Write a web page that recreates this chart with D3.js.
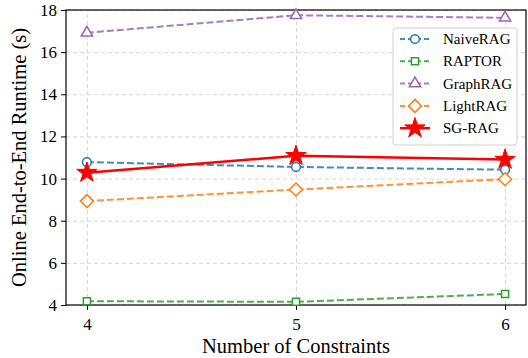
<!DOCTYPE html>
<html>
<head>
<meta charset="utf-8">
<script src="https://cdn.jsdelivr.net/npm/d3@7"></script>
<style>
  body { margin: 0; background: #fff; }
  text { font-family: "Liberation Serif", "Times New Roman", serif; fill: #000; }
  .grid line { stroke: #cccccc; stroke-dasharray: 4,3; stroke-width: 0.8; }
  .grid path { display: none; }
  .axis path, .axis line { stroke: #000; }
  .axis text { font-size: 17px; font-family: "Liberation Serif", serif; }
</style>
</head>
<body>
<svg id="chart" width="528" height="358"></svg>
<script>
// x categories
var constraints = [4, 5, 6];
var yTicks = [4, 6, 8, 10, 12, 14, 16, 18];

// runtime (s) per method
var naiveRAG = [10.78, 10.55, 10.42];
var raptor   = [4.18, 4.15, 4.52];
var graphRAG = [16.92, 17.75, 17.63];
var lightRAG = [8.93, 9.48, 9.97];
var sgRAG    = [10.28, 11.08, 10.9];

var seriesNames = ["NaiveRAG", "RAPTOR", "GraphRAG", "LightRAG", "SG-RAG"];

var params = {
  "margin": { "top": 10, "right": 2, "bottom": 53, "left": 66 },
  "width": 528,
  "height": 358
};
params.plot = {
  "width": params.width - params.margin.left - params.margin.right,
  "height": params.height - params.margin.top - params.margin.bottom
};

var styles = {
  "NaiveRAG": { "color": "#1f77b4", "marker": "circle", "dash": "7,3", "width": 2 },
  "RAPTOR":   { "color": "#2ca02c", "marker": "square", "dash": "7,3", "width": 2 },
  "GraphRAG": { "color": "#9467bd", "marker": "triangle", "dash": "7,3", "width": 2 },
  "LightRAG": { "color": "#ff7f0e", "marker": "diamond", "dash": "7,3", "width": 2 },
  "SG-RAG":   { "color": "#ff0000", "marker": "star", "dash": null, "width": 2.5 }
};

var series = [
  { "name": "NaiveRAG", "values": naiveRAG },
  { "name": "RAPTOR", "values": raptor },
  { "name": "GraphRAG", "values": graphRAG },
  { "name": "LightRAG", "values": lightRAG },
  { "name": "SG-RAG", "values": sgRAG }
];

var svg = d3.select("#chart");
var plot = svg.append("g")
  .attr("transform", "translate(" + params.margin.left + "," + params.margin.top + ")");

var x = d3.scaleLinear().domain([3.9, 6.1]).range([0, params.plot.width]);
var y = d3.scaleLinear().domain([4, 18]).range([params.plot.height, 0]);

// grid
plot.append("g").attr("class", "grid")
  .attr("transform", "translate(0," + params.plot.height + ")")
  .call(d3.axisBottom(x).tickValues(constraints).tickSize(-params.plot.height).tickFormat(""));
plot.append("g").attr("class", "grid")
  .call(d3.axisLeft(y).tickValues(yTicks).tickSize(-params.plot.width).tickFormat(""));

// axes
var gx = plot.append("g").attr("class", "axis")
  .attr("transform", "translate(0," + params.plot.height + ")")
  .call(d3.axisBottom(x).tickValues(constraints).tickFormat(d3.format("d")).tickSize(5).tickPadding(8));
var gy = plot.append("g").attr("class", "axis")
  .call(d3.axisLeft(y).tickValues(yTicks).tickSize(5).tickPadding(4));
gx.select(".domain").remove();
gy.select(".domain").remove();

plot.append("rect")
  .attr("width", params.plot.width)
  .attr("height", params.plot.height)
  .attr("fill", "none")
  .attr("stroke", "#000")
  .attr("stroke-width", 1.2);

// axis labels
svg.append("text")
  .attr("x", params.margin.left + x(5))
  .attr("y", 353)
  .attr("text-anchor", "middle")
  .style("font-size", "20.5px")
  .text("Number of Constraints");

svg.append("text")
  .attr("transform", "translate(26," + (params.margin.top + params.plot.height / 2) + ") rotate(-90)")
  .attr("text-anchor", "middle")
  .style("font-size", "20.5px")
  .text("Online End-to-End Runtime (s)");

function markerPath(type) {
  if (type === "circle") return d3.symbol(d3.symbolCircle, 60)();
  if (type === "square") return d3.symbol(d3.symbolSquare, 50)();
  if (type === "triangle") return d3.symbol(d3.symbolTriangle, 55)();
  if (type === "diamond") return "M0,-6.5L6.5,0L0,6.5L-6.5,0Z";
  return d3.symbol(d3.symbolStar, 130)();
}

var line = d3.line()
  .x(function(d, i) { return x(constraints[i]); })
  .y(function(d) { return y(d); });

series.forEach(function(s) {
  var st = styles[s.name];
  var g = plot.append("g");
  g.append("path")
    .attr("d", line(s.values))
    .attr("fill", "none")
    .attr("stroke", st.color)
    .attr("stroke-opacity", st.marker === "star" ? 1 : 0.85)
    .attr("stroke-width", st.width)
    .attr("stroke-dasharray", st.dash);
  g.selectAll("path.mk")
    .data(s.values)
    .enter()
    .append("path")
    .attr("class", "mk")
    .attr("d", markerPath(st.marker))
    .attr("transform", function(d, i) {
      return "translate(" + x(constraints[i]) + "," + y(d) + ")";
    })
    .attr("fill", st.marker === "star" ? st.color : "#fff")
    .attr("stroke", st.color)
    .attr("stroke-width", st.marker === "star" ? 1 : 1.5);
});

// legend
var legend = svg.append("g").attr("transform", "translate(393,28)");
legend.append("rect")
  .attr("width", 124)
  .attr("height", 117)
  .attr("rx", 3)
  .attr("fill", "#fff")
  .attr("fill-opacity", 0.85)
  .attr("stroke", "#d0d0d0");

seriesNames.forEach(function(name, i) {
  var st = styles[name];
  var ly = 11 + i * 22.3;
  var row = legend.append("g").attr("transform", "translate(0," + ly + ")");
  row.append("line")
    .attr("x1", 7).attr("x2", 37)
    .attr("stroke", st.color)
    .attr("stroke-opacity", st.marker === "star" ? 1 : 0.85)
    .attr("stroke-width", st.width)
    .attr("stroke-dasharray", st.dash ? "5,3" : null);
  row.append("path")
    .attr("d", markerPath(st.marker))
    .attr("transform", "translate(22,0)")
    .attr("fill", st.marker === "star" ? st.color : "#fff")
    .attr("stroke", st.color)
    .attr("stroke-width", st.marker === "star" ? 1 : 1.5);
  row.append("text")
    .attr("x", 50)
    .attr("y", 5)
    .style("font-size", "15px")
    .text(name);
});
</script>
</body>
</html>
